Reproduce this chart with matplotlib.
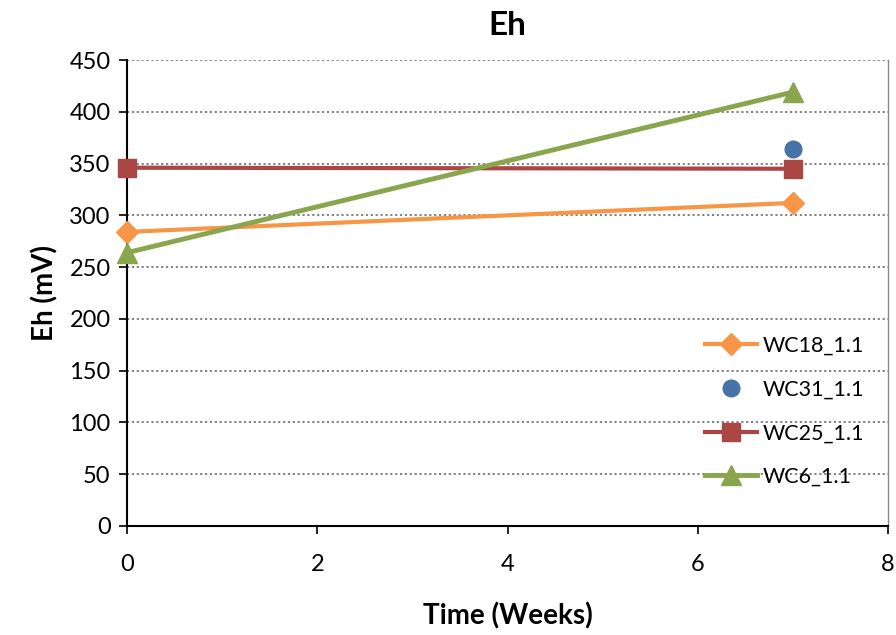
import matplotlib
matplotlib.use("Agg")
import matplotlib.pyplot as plt
from matplotlib.ticker import MultipleLocator

plt.rcParams['font.family'] = ['Lato', 'DejaVu Sans']

weeks = [0, 7]
wc18 = [284, 312]
wc31_x = [7]
wc31 = [364]
wc25 = [346, 345]
wc6 = [264, 419]

fig = plt.figure(figsize=(8.96, 6.35), dpi=100)
ax = fig.add_axes([0.142, 0.1717, 0.849, 0.7338])

ax.plot(weeks, wc18, color='#F79646', lw=3, marker='D', ms=11, label='WC18_1.1', zorder=3, clip_on=False)
ax.plot(wc31_x, wc31, color='#4572A7', lw=0, marker='o', ms=12, label='WC31_1.1', zorder=4, clip_on=False)
ax.plot(weeks, wc25, color='#AA4643', lw=3, marker='s', ms=13, label='WC25_1.1', zorder=3, clip_on=False)
ax.plot(weeks, wc6, color='#89A54E', lw=3.5, marker='^', ms=14, label='WC6_1.1', zorder=3, clip_on=False)

ax.set_xlim(0, 8)
ax.set_ylim(0, 450)
ax.xaxis.set_major_locator(MultipleLocator(2))
ax.yaxis.set_major_locator(MultipleLocator(50))
ax.grid(axis='y', color='#777777', linestyle=(0, (1.2, 1.5)), lw=1.3)
ax.set_axisbelow(True)
ax.spines['top'].set_visible(False)
ax.spines['right'].set_color('#888888')
ax.spines['right'].set_linewidth(1)
ax.spines['left'].set_linewidth(1.5)
ax.spines['bottom'].set_linewidth(1.5)
ax.tick_params(axis='both', direction='out', labelsize=17, length=6, width=1.2)
ax.tick_params(axis='x', pad=14)
ax.tick_params(axis='y', pad=6)

ax.set_title('Eh', fontsize=24, fontweight='bold', pad=18)
ax.set_xlabel('Time (Weeks)', fontsize=20, fontweight='bold', labelpad=20)
ax.set_ylabel('Eh (mV)', fontsize=20, fontweight='bold', labelpad=8)

ax.legend(loc='center left', bbox_to_anchor=(0.734, 0.246), frameon=False, fontsize=15.5,
          labelspacing=1.1, handlelength=2.4, handletextpad=0.3)

fig.savefig('out.png', dpi=100)
